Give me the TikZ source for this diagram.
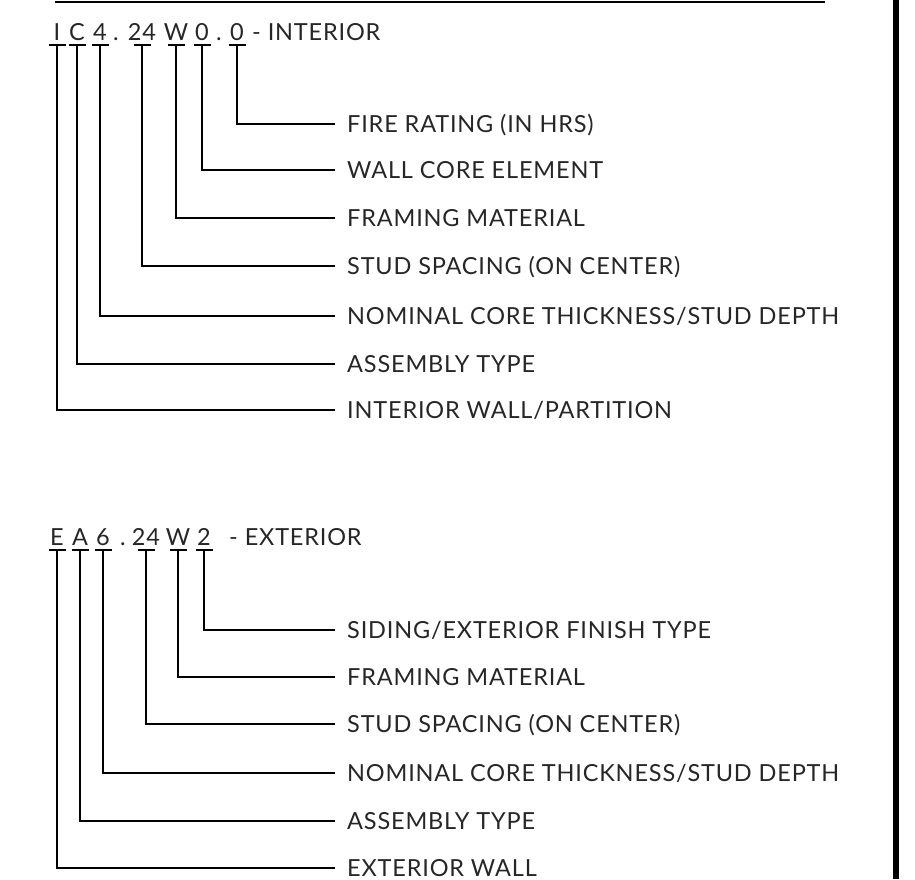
\documentclass[tikz,border=0pt]{standalone}
\usepackage{fontspec}
\setmainfont{Lato}[LetterSpace=3.5]
\begin{document}
\begin{tikzpicture}[x=1pt,y=-1pt,
  ch/.style={anchor=base,inner sep=0pt,font=\fontsize{23.5}{24}\selectfont,text=black!85},
  lbl/.style={anchor=west,inner xsep=12pt,inner ysep=0pt,text height=17pt,text depth=0pt,font=\fontsize{23.5}{24}\selectfont,text=black!85},
  ln/.style={line width=1.4pt,black},
]
\useasboundingbox (0,0) rectangle (915,879);
\draw[line width=2pt] (55,2) coordinate (tl) -- (825,2) coordinate (tr);
\draw[line width=6pt] (896,0) coordinate (rt) -- (896,879) coordinate (rb);

% top code
\node[ch] (a1) at (57,40) {I};
\node[ch] (a2) at (77,40) {C};
\node[ch] (a3) at (100,40) {4};
\node[ch] (ad1) at (116,40) {.};
\node[ch] (a4) at (142,40) {24};
\node[ch] (a5) at (176,40) {W};
\node[ch] (a6) at (202,40) {0};
\node[ch] (ad2) at (219,40) {.};
\node[ch] (a7) at (237,40) {0};
\node[ch,anchor=base west] (at) at (252,40) {- INTERIOR};

\node[lbl] (b7) at (335,124) {FIRE RATING (IN HRS)};
\node[lbl] (b6) at (335,170) {WALL CORE ELEMENT};
\node[lbl] (b5) at (335,218) {FRAMING MATERIAL};
\node[lbl] (b4) at (335,266) {STUD SPACING (ON CENTER)};
\node[lbl] (b3) at (335,316) {NOMINAL CORE THICKNESS/STUD DEPTH};
\node[lbl] (b2) at (335,364) {ASSEMBLY TYPE};
\node[lbl] (b1) at (335,410) {INTERIOR WALL/PARTITION};

\foreach \i in {1,...,7}{
  \draw[ln] ([xshift=-8.5pt,yshift=-5pt]a\i.base) -- ([xshift=8.5pt,yshift=-5pt]a\i.base);
  \draw[ln] ([yshift=-5pt]a\i.base) |- (b\i.west);
}

% bottom code
\node[ch] (e1) at (57,545) {E};
\node[ch] (e2) at (80,545) {A};
\node[ch] (e3) at (103,545) {6};
\node[ch] (ed1) at (123,545) {.};
\node[ch] (e4) at (146,545) {24};
\node[ch] (e5) at (178,545) {W};
\node[ch] (e6) at (204,545) {2};
\node[ch,anchor=base west] (et) at (229,545) {- EXTERIOR};

\node[lbl] (f6) at (335,630) {SIDING/EXTERIOR FINISH TYPE};
\node[lbl] (f5) at (335,677) {FRAMING MATERIAL};
\node[lbl] (f4) at (335,724) {STUD SPACING (ON CENTER)};
\node[lbl] (f3) at (335,773) {NOMINAL CORE THICKNESS/STUD DEPTH};
\node[lbl] (f2) at (335,821) {ASSEMBLY TYPE};
\node[lbl] (f1) at (335,868) {EXTERIOR WALL};

\foreach \i in {1,...,6}{
  \draw[ln] ([xshift=-8.5pt,yshift=-5pt]e\i.base) -- ([xshift=8.5pt,yshift=-5pt]e\i.base);
  \draw[ln] ([yshift=-5pt]e\i.base) |- (f\i.west);
}
\end{tikzpicture}
\end{document}
